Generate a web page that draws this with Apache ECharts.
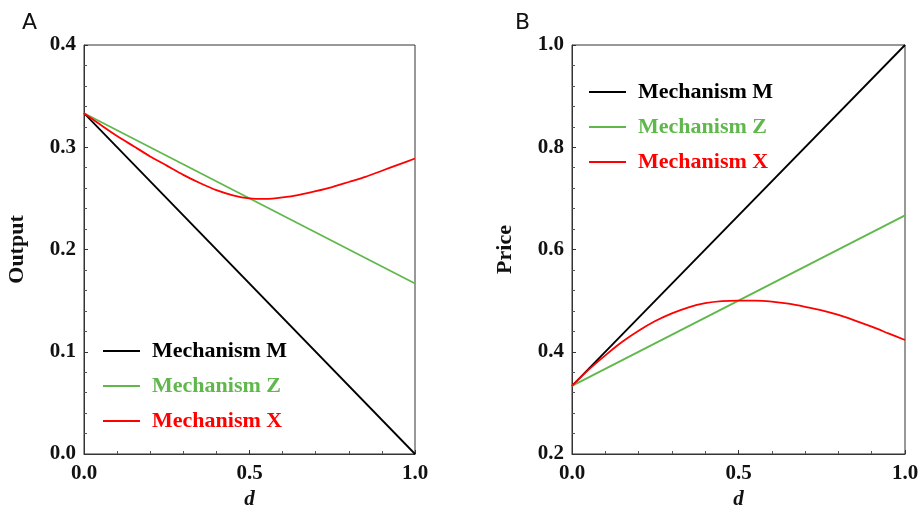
<!DOCTYPE html>
<html>
<head>
<meta charset="utf-8">
<script src="https://cdn.jsdelivr.net/npm/echarts@6/dist/echarts.min.js"></script>
<style>
  html, body { margin: 0; padding: 0; background: #fff; }
  #chartId { width: 919px; height: 510px; }
</style>
</head>
<body>
<div id="chartId"></div>
<script>
// d values for the straight lines (endpoints) and for the curve
const dEnds = [0, 1]
const dCurve = [0, 0.05, 0.1, 0.15, 0.2, 0.25, 0.3, 0.35, 0.4, 0.45, 0.5,
  0.55, 0.6, 0.65, 0.7, 0.75, 0.8, 0.85, 0.9, 0.95, 1.0]

// panel A - Output
const outputM = [0.3333, 0]
const outputZ = [0.3333, 0.1667]
const outputX = [0.3333, 0.322, 0.311, 0.301, 0.291, 0.282, 0.273, 0.265, 0.258, 0.253, 0.250,
  0.2495, 0.251, 0.2535, 0.257, 0.261, 0.266, 0.271, 0.277, 0.283, 0.289]

// panel B - Price
const priceM = [0.3333, 1.0]
const priceZ = [0.3333, 0.6667]
const priceX = [0.3333, 0.365, 0.393, 0.419, 0.441, 0.460, 0.475, 0.487, 0.495, 0.499, 0.5,
  0.5, 0.498, 0.494, 0.488, 0.481, 0.472, 0.461, 0.449, 0.436, 0.423]

const names = ['Mechanism M', 'Mechanism Z', 'Mechanism X']
const colors = ['#000000', '#60b84c', '#ff0000']

function pairs (xs, ys) {
  return xs.map((x, i) => [x, ys[i]])
}

const serif = 'Liberation Serif'
const labelStyle = { fontFamily: serif, fontWeight: 'bold', fontSize: 21, color: '#111' }

function makeXAxis (idx) {
  return {
    type: 'value',
    gridIndex: idx,
    min: 0,
    max: 1,
    interval: 0.5,
    name: 'd',
    nameLocation: 'middle',
    nameGap: 33,
    nameTextStyle: { fontFamily: serif, fontWeight: 'bold', fontStyle: 'italic', fontSize: 21, color: '#111' },
    axisLine: { show: true, lineStyle: { color: '#333', width: 1 } },
    axisTick: { show: true, inside: true, length: 4, lineStyle: { color: '#333' } },
    minorTick: { show: true, splitNumber: 5, length: 3, lineStyle: { color: '#555' } },
    splitLine: { show: false },
    axisLabel: Object.assign({ margin: 9, formatter: v => v.toFixed(1) }, labelStyle)
  }
}

function makeYAxis (idx, min, max, step, name) {
  return {
    type: 'value',
    gridIndex: idx,
    min: min,
    max: max,
    interval: step,
    name: name,
    nameLocation: 'middle',
    nameGap: 56,
    nameTextStyle: { fontFamily: serif, fontWeight: 'bold', fontSize: 22, color: '#111' },
    axisLine: { show: true, lineStyle: { color: '#333', width: 1 } },
    axisTick: { show: true, inside: true, length: 4, lineStyle: { color: '#333' } },
    minorTick: { show: true, splitNumber: 5, length: 3, lineStyle: { color: '#555' } },
    splitLine: { show: false },
    axisLabel: Object.assign({ margin: 8, formatter: v => v.toFixed(1) }, labelStyle)
  }
}

function makeLegend (left, top) {
  return {
    left: left,
    top: top,
    padding: 0,
    orient: 'vertical',
    icon: 'rect',
    itemWidth: 37,
    itemHeight: 2,
    itemGap: 13,
    selectedMode: false,
    textStyle: { fontFamily: serif, fontWeight: 'bold', fontSize: 22, padding: [0, 0, 0, 7] },
    data: names.map((n, i) => ({ name: n, textStyle: { color: colors[i] } }))
  }
}

function line (name, color, idx, data, smooth) {
  return {
    name: name,
    type: 'line',
    xAxisIndex: idx,
    yAxisIndex: idx,
    data: data,
    smooth: smooth ? 0.25 : false,
    showSymbol: false,
    symbol: 'none',
    color: color,
    lineStyle: { color: color, width: 1.8 },
    animation: false
  }
}

const letterStyle = { fontFamily: 'DejaVu Sans', fontWeight: 'normal', fontSize: 22, color: '#111' }

let option = {
  backgroundColor: '#fff',
  animation: false,
  title: [
    { text: 'A', left: 22, top: 12, padding: 0, textStyle: letterStyle },
    { text: 'B', left: 515, top: 12, padding: 0, textStyle: letterStyle }
  ],
  grid: [
    { left: 84, top: 45, right: 504, bottom: 56, show: true, borderColor: '#333', borderWidth: 1, outerBoundsMode: 'none' },
    { left: 572, top: 45, right: 14, bottom: 56, show: true, borderColor: '#333', borderWidth: 1, outerBoundsMode: 'none' }
  ],
  legend: [makeLegend(103, 340), makeLegend(589, 81)],
  xAxis: [makeXAxis(0), makeXAxis(1)],
  yAxis: [makeYAxis(0, 0, 0.4, 0.1, 'Output'), makeYAxis(1, 0.2, 1.0, 0.2, 'Price')],
  series: [
    line(names[0], colors[0], 0, pairs(dEnds, outputM), false),
    line(names[1], colors[1], 0, pairs(dEnds, outputZ), false),
    line(names[2], colors[2], 0, pairs(dCurve, outputX), true),
    line(names[0], colors[0], 1, pairs(dEnds, priceM), false),
    line(names[1], colors[1], 1, pairs(dEnds, priceZ), false),
    line(names[2], colors[2], 1, pairs(dCurve, priceX), true)
  ]
}

let chart = echarts.init(document.getElementById('chartId'))
chart.setOption(option)
window.onresize = function () {
  chart.resize()
}
</script>
</body>
</html>
